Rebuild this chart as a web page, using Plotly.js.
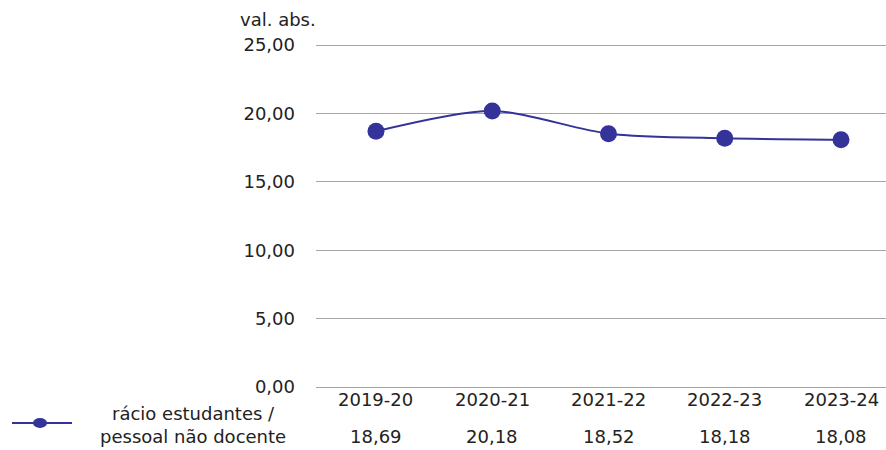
<!DOCTYPE html>
<html>
<head>
<meta charset="utf-8">
<script src="https://cdn.plot.ly/plotly-3.0.1.min.js"></script>
<style>html,body{margin:0;padding:0;background:#fff;}#chart{width:886px;height:450px;}</style>
</head>
<body>
<div id="chart"></div>
<script>
const categories = ["2019-20", "2020-21", "2021-22", "2022-23", "2023-24"];
const values = [18.69, 20.18, 18.52, 18.18, 18.08];
const seriesName = "rácio estudantes /<br>pessoal não docente";
const yTicks = [0, 5, 10, 15, 20, 25];
const yAxisTitle = "val. abs.";

const W = 886, H = 450, L = 316, R = 0, T = 43, B = 61;
const plotW = W - L - R, plotH = H - T - B;
const px = x => (x - L) / plotW;
const py = y => (H - B - y) / plotH;
const fmt = v => v.toFixed(2).replace('.', ',');
const FONT = "DejaVu Sans, Liberation Sans, Arial, sans-serif";
const FS = 18;
const TXT = "#222222";
const BLUE = "#333399";

const trace = {
  x: categories.map((c, i) => i),
  y: values,
  type: 'scatter',
  mode: 'lines+markers',
  line: {color: BLUE, width: 2, shape: 'spline', smoothing: 0.8},
  marker: {color: BLUE, size: 17},
  hoverinfo: 'none',
  showlegend: false
};

const annotations = [];
categories.forEach((c, i) => {
  annotations.push({x: i, xref: 'x', y: py(399), yref: 'paper', text: c, showarrow: false,
    xanchor: 'center', yanchor: 'middle', font: {family: FONT, size: FS, color: TXT}});
  annotations.push({x: i, xref: 'x', y: py(436), yref: 'paper', text: fmt(values[i]), showarrow: false,
    xanchor: 'center', yanchor: 'middle', font: {family: FONT, size: FS, color: TXT}});
});
annotations.push({x: px(193), xref: 'paper', y: py(425), yref: 'paper', text: seriesName, showarrow: false,
  xanchor: 'center', yanchor: 'middle', align: 'center',
  font: {family: FONT, size: FS, color: TXT}});
annotations.push({x: px(318), xref: 'paper', y: py(20), yref: 'paper', text: yAxisTitle, showarrow: false,
  xanchor: 'right', yanchor: 'middle', font: {family: FONT, size: FS, color: TXT}});

const shapes = [
  {type: 'line', xref: 'paper', yref: 'paper', x0: px(12), x1: px(72), y0: py(423), y1: py(423),
   line: {color: BLUE, width: 2}},
  {type: 'circle', xref: 'paper', yref: 'paper', xsizemode: 'pixel', ysizemode: 'pixel',
   xanchor: px(40), yanchor: py(423), x0: -7, x1: 7, y0: -5, y1: 5,
   fillcolor: BLUE, line: {color: BLUE, width: 0}}
];

const layout = {
  width: W, height: H,
  margin: {l: L, r: R, t: T, b: B, pad: 0},
  paper_bgcolor: '#ffffff', plot_bgcolor: '#ffffff',
  separators: ',.',
  font: {family: FONT, size: FS, color: TXT},
  xaxis: {
    range: [-0.516, 4.387], showgrid: false, zeroline: false, showticklabels: false,
    showline: false, ticks: '', fixedrange: true
  },
  yaxis: {
    range: [-0.146, 25.146], tickvals: yTicks, tickformat: '.2f', showgrid: true,
    gridcolor: '#a6a6a6', gridwidth: 1, zeroline: false, showline: false, ticks: '',
    ticklabelstandoff: 20, tickfont: {family: FONT, size: FS, color: TXT}, fixedrange: true
  },
  annotations: annotations,
  shapes: shapes,
  showlegend: false
};

Plotly.newPlot('chart', [trace], layout, {displayModeBar: false, staticPlot: true});
</script>
</body>
</html>
